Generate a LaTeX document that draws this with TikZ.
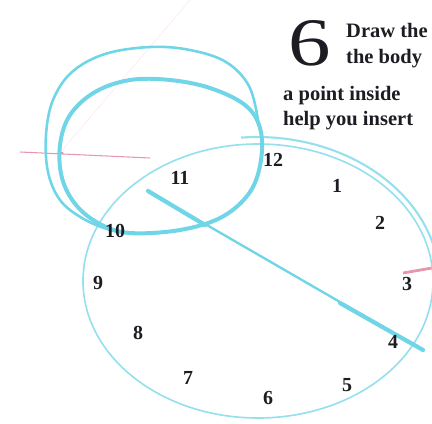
\documentclass[tikz,border=0pt]{standalone}
\usepackage{tikz}
\usepackage{fontspec}
\setmainfont{Liberation Serif}
\usetikzlibrary{positioning}
\definecolor{clockCyan}{RGB}{150,224,238}
\definecolor{clockCyanDark}{RGB}{112,213,231}
\definecolor{clockPink}{RGB}{232,150,172}
\definecolor{clockInk}{RGB}{28,28,34}

\begin{document}
\begin{tikzpicture}[x=0.03cm, y=-0.03cm,
    num/.style={font=\fontsize{17}{17}\selectfont\bfseries, text=clockInk, inner sep=0pt},
    lead/.style={font=\fontsize{17.5}{17.5}\selectfont\bfseries, text=clockInk, anchor=base west, inner sep=0pt},
    rim/.style={draw=clockCyan, line width=1.4pt},
    loopline/.style={draw=clockCyanDark, line cap=round, line join=round}
  ]
  \useasboundingbox (0,0) rectangle (432,423);
  \clip (0,0) rectangle (432,423);

  % faint construction marks
  \draw[clockPink!60, opacity=0.35, line width=0.5pt] (190,0) -- (58,155);
  \draw[clockPink, line width=0.9pt] (20,152) -- (150,158);
  \fill[clockPink] (62,153) circle[radius=1.6];
  \draw[clockPink, line width=2.4pt] (403,273) -- (432,268);

  % clock face
  \draw[rim] (258,281) ellipse[x radius=175, y radius=137];
  \draw[rim, line width=1.8pt] plot[domain=8:95, smooth, samples=30]
    ({257+183*cos(\x)}, {284-147*sin(\x)});

  % loop of the body
  \draw[loopline, line width=2.2pt] plot[smooth, tension=0.6] coordinates {
    (258,120) (249,86) (226,62) (190,50) (150,47) (105,54) (72,72)
    (53,100) (46,135) (48,172) (60,200) (82,218) (110,230) (136,234)};
  \draw[loopline, line width=3.4pt] plot[smooth cycle, tension=0.6] coordinates {
    (130,233) (180,230) (222,217) (250,192) (261,160) (260,128) (245,105)
    (210,88) (170,80) (130,80) (95,92) (70,115) (60,145) (62,178) (76,205) (100,224)};

  % hand
  \coordinate (handA) at (148,191);
  \coordinate (handB) at (205,225);
  \coordinate (handC) at (340,303);
  \coordinate (handD) at (423,350);
  \draw[loopline, line width=2pt] (handA) -- (handD);
  \draw[loopline, line width=3.6pt] (handA) -- (handB);
  \draw[loopline, line width=3.6pt] (handC) -- (handD);

  % hours
  \node[num] (h12) at (273,160) {12};
  \node[num] (h11) at (180,178) {11};
  \node[num] (h10) at (115,231) {10};
  \node[num] (h1)  at (337,186) {1};
  \node[num] (h2)  at (380,223) {2};
  \node[num] (h3)  at (407,284) {3};
  \node[num] (h4)  at (393,342) {4};
  \node[num] (h5)  at (347,385) {5};
  \node[num] (h6)  at (268,398) {6};
  \node[num] (h7)  at (188,378) {7};
  \node[num] (h8)  at (138,333) {8};
  \node[num] (h9)  at (98,283)  {9};

  % step text
  \node[font=\fontsize{58}{58}\selectfont, text=clockInk, inner sep=0pt,
        anchor=base west] (stepNo) at (288,65) {\scalebox{1.25}[1]{6}};
  \node[lead] (lineA) at (346,37)  {Draw the};
  \node[lead] (lineB) at (346,63)  {the body};
  \node[lead] (lineC) at (283,100) {a point inside};
  \node[lead] (lineD) at (283,125) {help you insert};
\end{tikzpicture}
\end{document}
